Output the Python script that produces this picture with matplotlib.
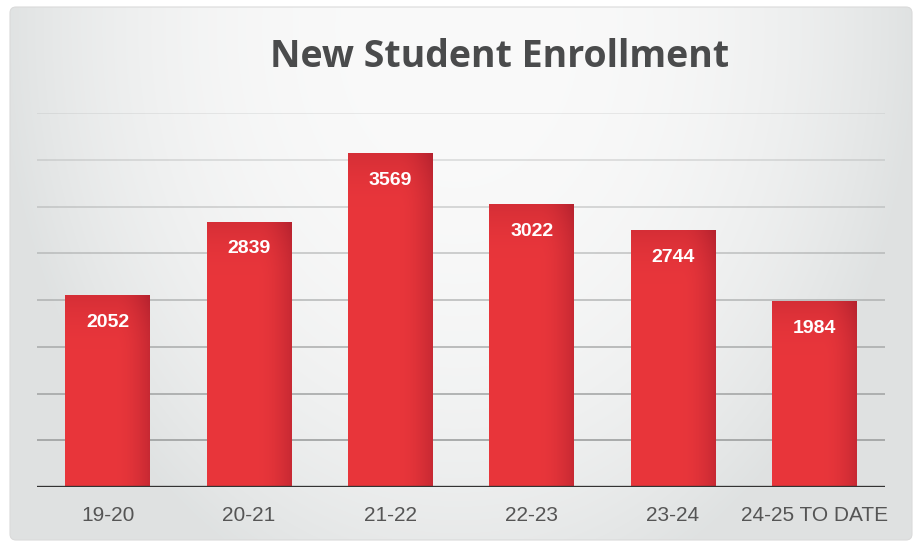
import matplotlib
matplotlib.use('Agg')
import matplotlib.pyplot as plt
import numpy as np
from matplotlib.patches import FancyBboxPatch

# data
years  = ['19-20', '20-21', '21-22', '22-23', '23-24', '24-25 TO DATE']
counts = [2052, 2839, 3569, 3022, 2744, 1984]
grid_ticks = [500, 1000, 1500, 2000, 2500, 3000, 3500, 4000]


def backdrop(fig):
    bg = fig.add_axes([0, 0, 1, 1], zorder=-10)
    bg.set_axis_off()
    h, w = 545, 916
    v, u = np.mgrid[0:1:h * 1j, 0:1:w * 1j]
    d = np.sqrt(((u - 0.5) / 0.5) ** 2 + ((v - 0.05) / 1.1) ** 2)
    t = np.clip(d, 0, 1) ** 2.5
    white = np.array([0.98, 0.98, 0.98])
    grey = np.array([0.875, 0.885, 0.885])
    img = white * (1 - t[..., None]) + grey * t[..., None]
    im = bg.imshow(img, extent=[0, w, h, 0], aspect='auto')
    bg.set_xlim(0, w)
    bg.set_ylim(h, 0)
    box = FancyBboxPatch((10, 7), 902, 533, boxstyle='round,pad=0,rounding_size=6',
                         transform=bg.transData, facecolor='none',
                         edgecolor='#dadada', lw=0.8)
    bg.add_patch(box)
    im.set_clip_path(box)


def red_fill(ax, bar):
    x0, w, hgt = bar.get_x(), bar.get_width(), bar.get_height()
    ny, nx = 200, 80
    yy, xx = np.mgrid[0:1:ny * 1j, 0:1:nx * 1j]   # yy=0 at top
    ydata = hgt * (1 - yy)
    side = np.clip((xx - 0.6) / 0.4, 0, 1) ** 1.8
    top = np.clip(1 - (hgt - ydata) / 600.0, 0, 1) ** 2
    shade = np.clip(side * 0.6 + top * 0.35, 0, 1)
    light = np.array([0.91, 0.21, 0.23])
    dark = np.array([0.70, 0.13, 0.18])
    img = light * (1 - shade[..., None]) + dark * shade[..., None]
    im = ax.imshow(img, extent=[x0, x0 + w, 0, hgt], aspect='auto', zorder=3)
    im.set_clip_path(bar)


fig = plt.figure(figsize=(9.16, 5.45), dpi=100)
backdrop(fig)

ax = fig.add_axes([37 / 916, 58 / 545, 848 / 916, 374 / 545])
ax.patch.set_alpha(0)
x = np.arange(len(years))
bars = ax.bar(x, counts, width=0.6, color='#e33238', zorder=2)
for b in bars:
    red_fill(ax, b)

ax.set_xlim(-0.5, len(years) - 0.5)
ax.set_ylim(0, 4000)

# grid lines fade out towards the top
for i, g in enumerate(grid_ticks):
    a = 0.9 - 0.1 * i
    ax.axhline(g, color='#9c9e9e', alpha=a, lw=1.3, zorder=1)
ax.axhline(0, color='#333333', lw=2.4, zorder=4)

for b, v in zip(bars, counts):
    ax.annotate(str(v), (b.get_x() + b.get_width() / 2, v), xytext=(0, -19.5),
                textcoords='offset points', ha='center', va='center',
                color='white', fontsize=14, fontweight='bold',
                family='Liberation Sans', zorder=5)

ax.set_xticks(x)
ax.set_xticklabels(years, family='Liberation Sans', fontsize=15, color='#555555')
ax.tick_params(axis='x', length=0, pad=14)
ax.set_yticks([])
for s in ax.spines.values():
    s.set_visible(False)

fig.text(500 / 916, 1 - 57 / 545, 'New Student Enrollment', ha='center', va='center',
         fontsize=27, fontweight='bold', family='Open Sans', color='#4a4b4c')

fig.savefig('out.png', dpi=100)
